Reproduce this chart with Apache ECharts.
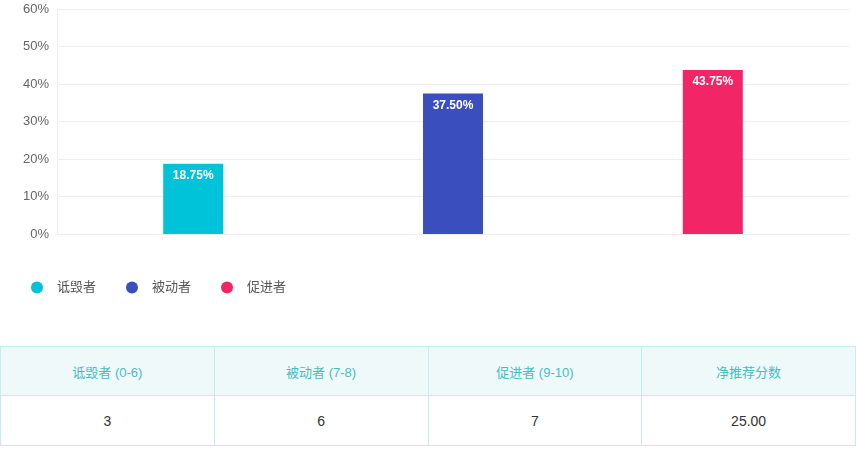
<!DOCTYPE html>
<html>
<head>
<meta charset="utf-8">
<script src="https://cdn.jsdelivr.net/npm/echarts@6/dist/echarts.min.js"></script>
<style>
    body{
        margin: 0;
        font-family: "Liberation Sans", "Noto Sans CJK SC", sans-serif;
        background: #fff;
    }
    #chart{
        width: 856px;
        height: 346px;
    }
    .npsTable{
        width: 856px;
        border-collapse: collapse;
        table-layout: fixed;
        font-size: 13px;
    }
    .npsTable td, .npsTable th{
        border: 1px solid #c5ecee;
        text-align: center;
        font-weight: normal;
        padding: 0;
    }
    .npsTable th{
        height: 48px;
        background: #f0f9fa;
        color: #3fbfc4;
    }
    .npsTable td{
        height: 49px;
        color: #333;
        font-size: 14px;
    }
</style>
</head>
<body>
<div id="chart"></div>
<table class="npsTable">
    <thead><tr id="headRow"></tr></thead>
    <tbody><tr id="bodyRow"></tr></tbody>
</table>
<script>
    var groups = ['诋毁者', '被动者', '促进者'];
    var percents = [18.75, 37.5, 43.75];
    var colors = ['#00c2d9', '#3a4fbd', '#f22667'];
    var yTicks = [0, 10, 20, 30, 40, 50, 60];

    var tableHead = ['诋毁者 (0-6)', '被动者 (7-8)', '促进者 (9-10)', '净推荐分数'];
    var tableValues = ['3', '6', '7', '25.00'];

    var series = [];
    for (var i = 0; i < groups.length; i++) {
        series.push({
            name: groups[i],
            type: 'bar',
            data: [percents[i]],
            barWidth: 60,
            barGap: '333%',
            itemStyle: {color: colors[i]},
            label: {
                show: true,
                position: 'insideTop',
                distance: 6,
                color: '#fff',
                fontSize: 12,
                fontWeight: 'bold',
                formatter: function (p) { return p.value.toFixed(2) + '%'; }
            }
        });
    }

    var Chart = echarts.init(document.getElementById('chart'));
    Chart.setOption({
        animation: false,
        textStyle: {fontFamily: '"Liberation Sans", "Noto Sans CJK SC", sans-serif'},
        grid: {left: 57, right: 7, top: 9, bottom: 112},
        legend: {
            left: 26,
            top: 276,
            icon: 'circle',
            itemWidth: 30,
            itemHeight: 12,
            itemGap: 30,
            textStyle: {color: '#555', fontSize: 13}
        },
        xAxis: {
            type: 'category',
            data: [''],
            axisLine: {lineStyle: {color: '#eee'}},
            axisTick: {show: false},
            axisLabel: {show: false}
        },
        yAxis: {
            type: 'value',
            min: yTicks[0],
            max: yTicks[yTicks.length - 1],
            interval: 10,
            axisLine: {show: true, lineStyle: {color: '#eee'}},
            axisTick: {show: false},
            splitLine: {lineStyle: {color: '#eee'}},
            axisLabel: {color: '#666', fontSize: 13, formatter: '{value}%'}
        },
        series: series
    });

    var headRow = document.getElementById('headRow');
    var bodyRow = document.getElementById('bodyRow');
    for (var j = 0; j < tableHead.length; j++) {
        var th = document.createElement('th');
        th.textContent = tableHead[j];
        headRow.appendChild(th);
        var td = document.createElement('td');
        td.textContent = tableValues[j];
        bodyRow.appendChild(td);
    }
</script>
</body>
</html>
